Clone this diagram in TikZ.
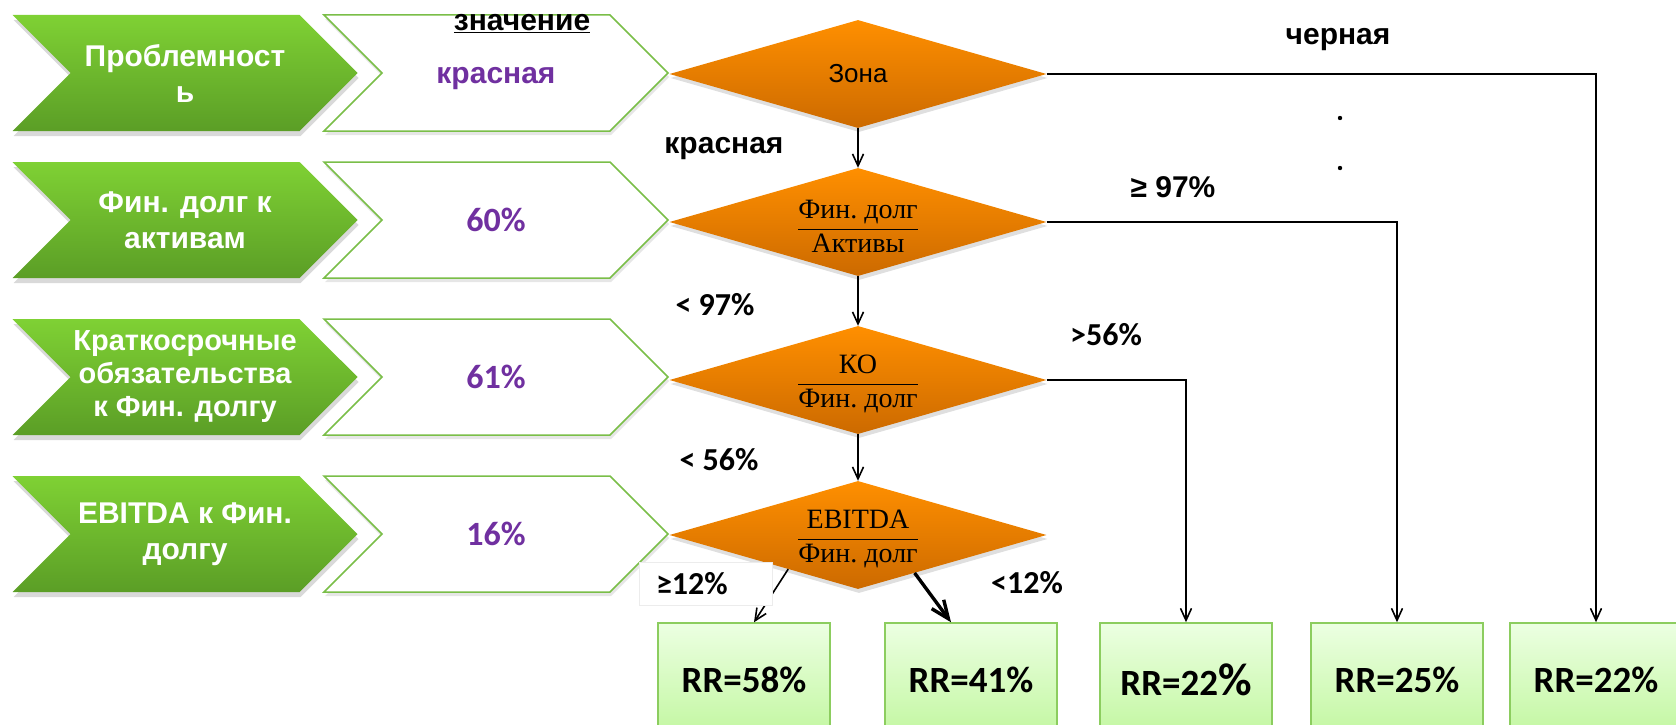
\documentclass[tikz,border=0pt]{standalone}
\usepackage{fontspec}
\setmainfont{Liberation Sans}
\newfontfamily\calibfont{Carlito}
\newfontfamily\cambfont{Liberation Serif}
\usetikzlibrary{shapes.geometric,shapes.symbols,shadows,arrows.meta,calc}

\definecolor{grtop}{RGB}{127,209,52}
\definecolor{grbot}{RGB}{91,158,38}
\definecolor{chvline}{RGB}{122,190,72}
\definecolor{valpurple}{RGB}{112,48,160}
\definecolor{ortop}{RGB}{255,143,0}
\definecolor{orbot}{RGB}{204,106,0}
\definecolor{rrtop}{RGB}{236,255,226}
\definecolor{rrbot}{RGB}{194,247,160}
\definecolor{rrline}{RGB}{140,205,95}

\begin{document}
\begin{tikzpicture}[
  x=1pt, y=-1pt,
  font=\bfseries\fontsize{30}{36}\selectfont,
  param/.style={signal, signal from=west, signal to=east, minimum width=345pt, minimum height=116pt,
    inner sep=0pt, top color=grtop, bottom color=grbot, draw=none, text=white, align=center,
    drop shadow={shadow xshift=1pt, shadow yshift=-5pt, opacity=0.3}},
  value/.style={signal, signal from=west, signal to=east, minimum width=344pt, minimum height=116pt,
    inner sep=0pt, fill=white, draw=chvline, line width=1.5pt, text=valpurple, align=center,
    drop shadow={shadow xshift=1pt, shadow yshift=-4pt, opacity=0.2}},
  pct/.style={font=\calibfont\bfseries\fontsize{34}{36}\selectfont},
  cond/.style={diamond, minimum width=377pt, minimum height=108pt, inner sep=0pt,
    top color=ortop, bottom color=orbot, draw=none,
    drop shadow={shadow xshift=1pt, shadow yshift=-4pt, opacity=0.25}},
  fractxt/.style={font=\normalfont\cambfont\fontsize{28}{30}\selectfont, yshift=-4pt},
  rrbox/.style={rectangle, draw=rrline, line width=1.5pt, top color=rrtop, bottom color=rrbot,
    minimum width=172pt, minimum height=114pt, font=\calibfont\bfseries\fontsize{37}{40}\selectfont},
  lbl/.style={font=\calibfont\bfseries\fontsize{32}{34}\selectfont},
  arr/.style={-{Straight Barb[length=12pt,width=11pt]}, line width=1.6pt},
  thickarr/.style={-{Straight Barb[length=18pt,width=15pt]}, line width=3.4pt}
]
\useasboundingbox (0,0) rectangle (1676,725);
\clip (0,0) rectangle (1676,725);

% indicators
\node[param] (p1) at (185,73) {Проблемност\\ь};
\node[param] (p2) at (185,220) {Фин. долг к\\активам};
\node[param, font=\bfseries\fontsize{29}{33}\selectfont] (p3) at (185,377) {Краткосрочные\\обязательства\\к Фин. долгу};
\node[param] (p4) at (185,534) {EBITDA к Фин.\\долгу};

% values
\node[value] (v1) at (496,73) {\raisebox{-6pt}[\height][\depth]{красная}};
\node[value, pct] (v2) at (496,220) {60\%};
\node[value, pct] (v3) at (496,377) {61\%};
\node[value, pct] (v4) at (496,534) {16\%};
\node (hdr) at (522,24) {\underline{значение}};

% decisions
\node[cond] (d1) at (858,74) {};
\node[cond] (d2) at (858,222) {};
\node[cond] (d3) at (858,380) {};
\node[cond] (d4) at (858,535) {};
\node[font=\normalfont\fontsize{26}{30}\selectfont] (d1t) at (d1) {Зона};
\node[fractxt] (d2t) at (d2) {$\displaystyle\frac{\mbox{Фин.\ долг}}{\mbox{Активы}}$};
\node[fractxt] (d3t) at (d3) {$\displaystyle\frac{\mbox{КО}}{\mbox{Фин.\ долг}}$};
\node[fractxt] (d4t) at (d4) {$\displaystyle\frac{\mbox{EBITDA}}{\mbox{Фин.\ долг}}$};

% results
\node[rrbox] (rr1) at (744,680) {RR=58\%};
\node[rrbox] (rr2) at (971,680) {RR=41\%};
\node[rrbox] (rr3) at (1186,680) {RR=22{\fontsize{46}{46}\selectfont\%}};
\node[rrbox] (rr4) at (1397,680) {RR=25\%};
\node[rrbox] (rr5) at (1596,680) {RR=22\%};

% connectors
\draw[arr] (d1.south) -- (d2.north);
\draw[arr] (d2.south) -- (d3.north);
\draw[arr] (d3.south) -- (d4.north);
\draw[arr] (d1.east) -| (rr5.north);
\draw[arr] (d2.east) -| (rr4.north);
\draw[arr] (d3.east) -| (rr3.north);
\draw[arr] ($(d4.south)!0.37!(d4.west)$) -- ([xshift=10pt]rr1.north);
\draw[thickarr] ($(d4.south)!0.3!(d4.east)$) -- ([xshift=-20pt]rr2.north);

% branch labels
\node (zred) at (724,149) {красная};
\node (zblack) at (1338,40) {черная};
\fill (1340,118) circle[radius=2.2pt] (1340,168) circle[radius=2.2pt];
\node (ge97) at (1173,187) {≥ 97\%};
\node[lbl] (lt97) at (715,305) {< 97\%};
\node[lbl] (gt56) at (1106,335) {>56\%};
\node[lbl] (lt56) at (719,460) {< 56\%};
\node[lbl, fill=white, draw=gray!15, line width=1pt, minimum width=133pt, minimum height=43pt,
  text width=116pt, align=left, inner xsep=8.5pt] (ge12) at (706,584) {\hspace*{8pt}≥12\%};
\node[lbl] (lt12) at (1027,583) {<12\%};
\end{tikzpicture}
\end{document}
